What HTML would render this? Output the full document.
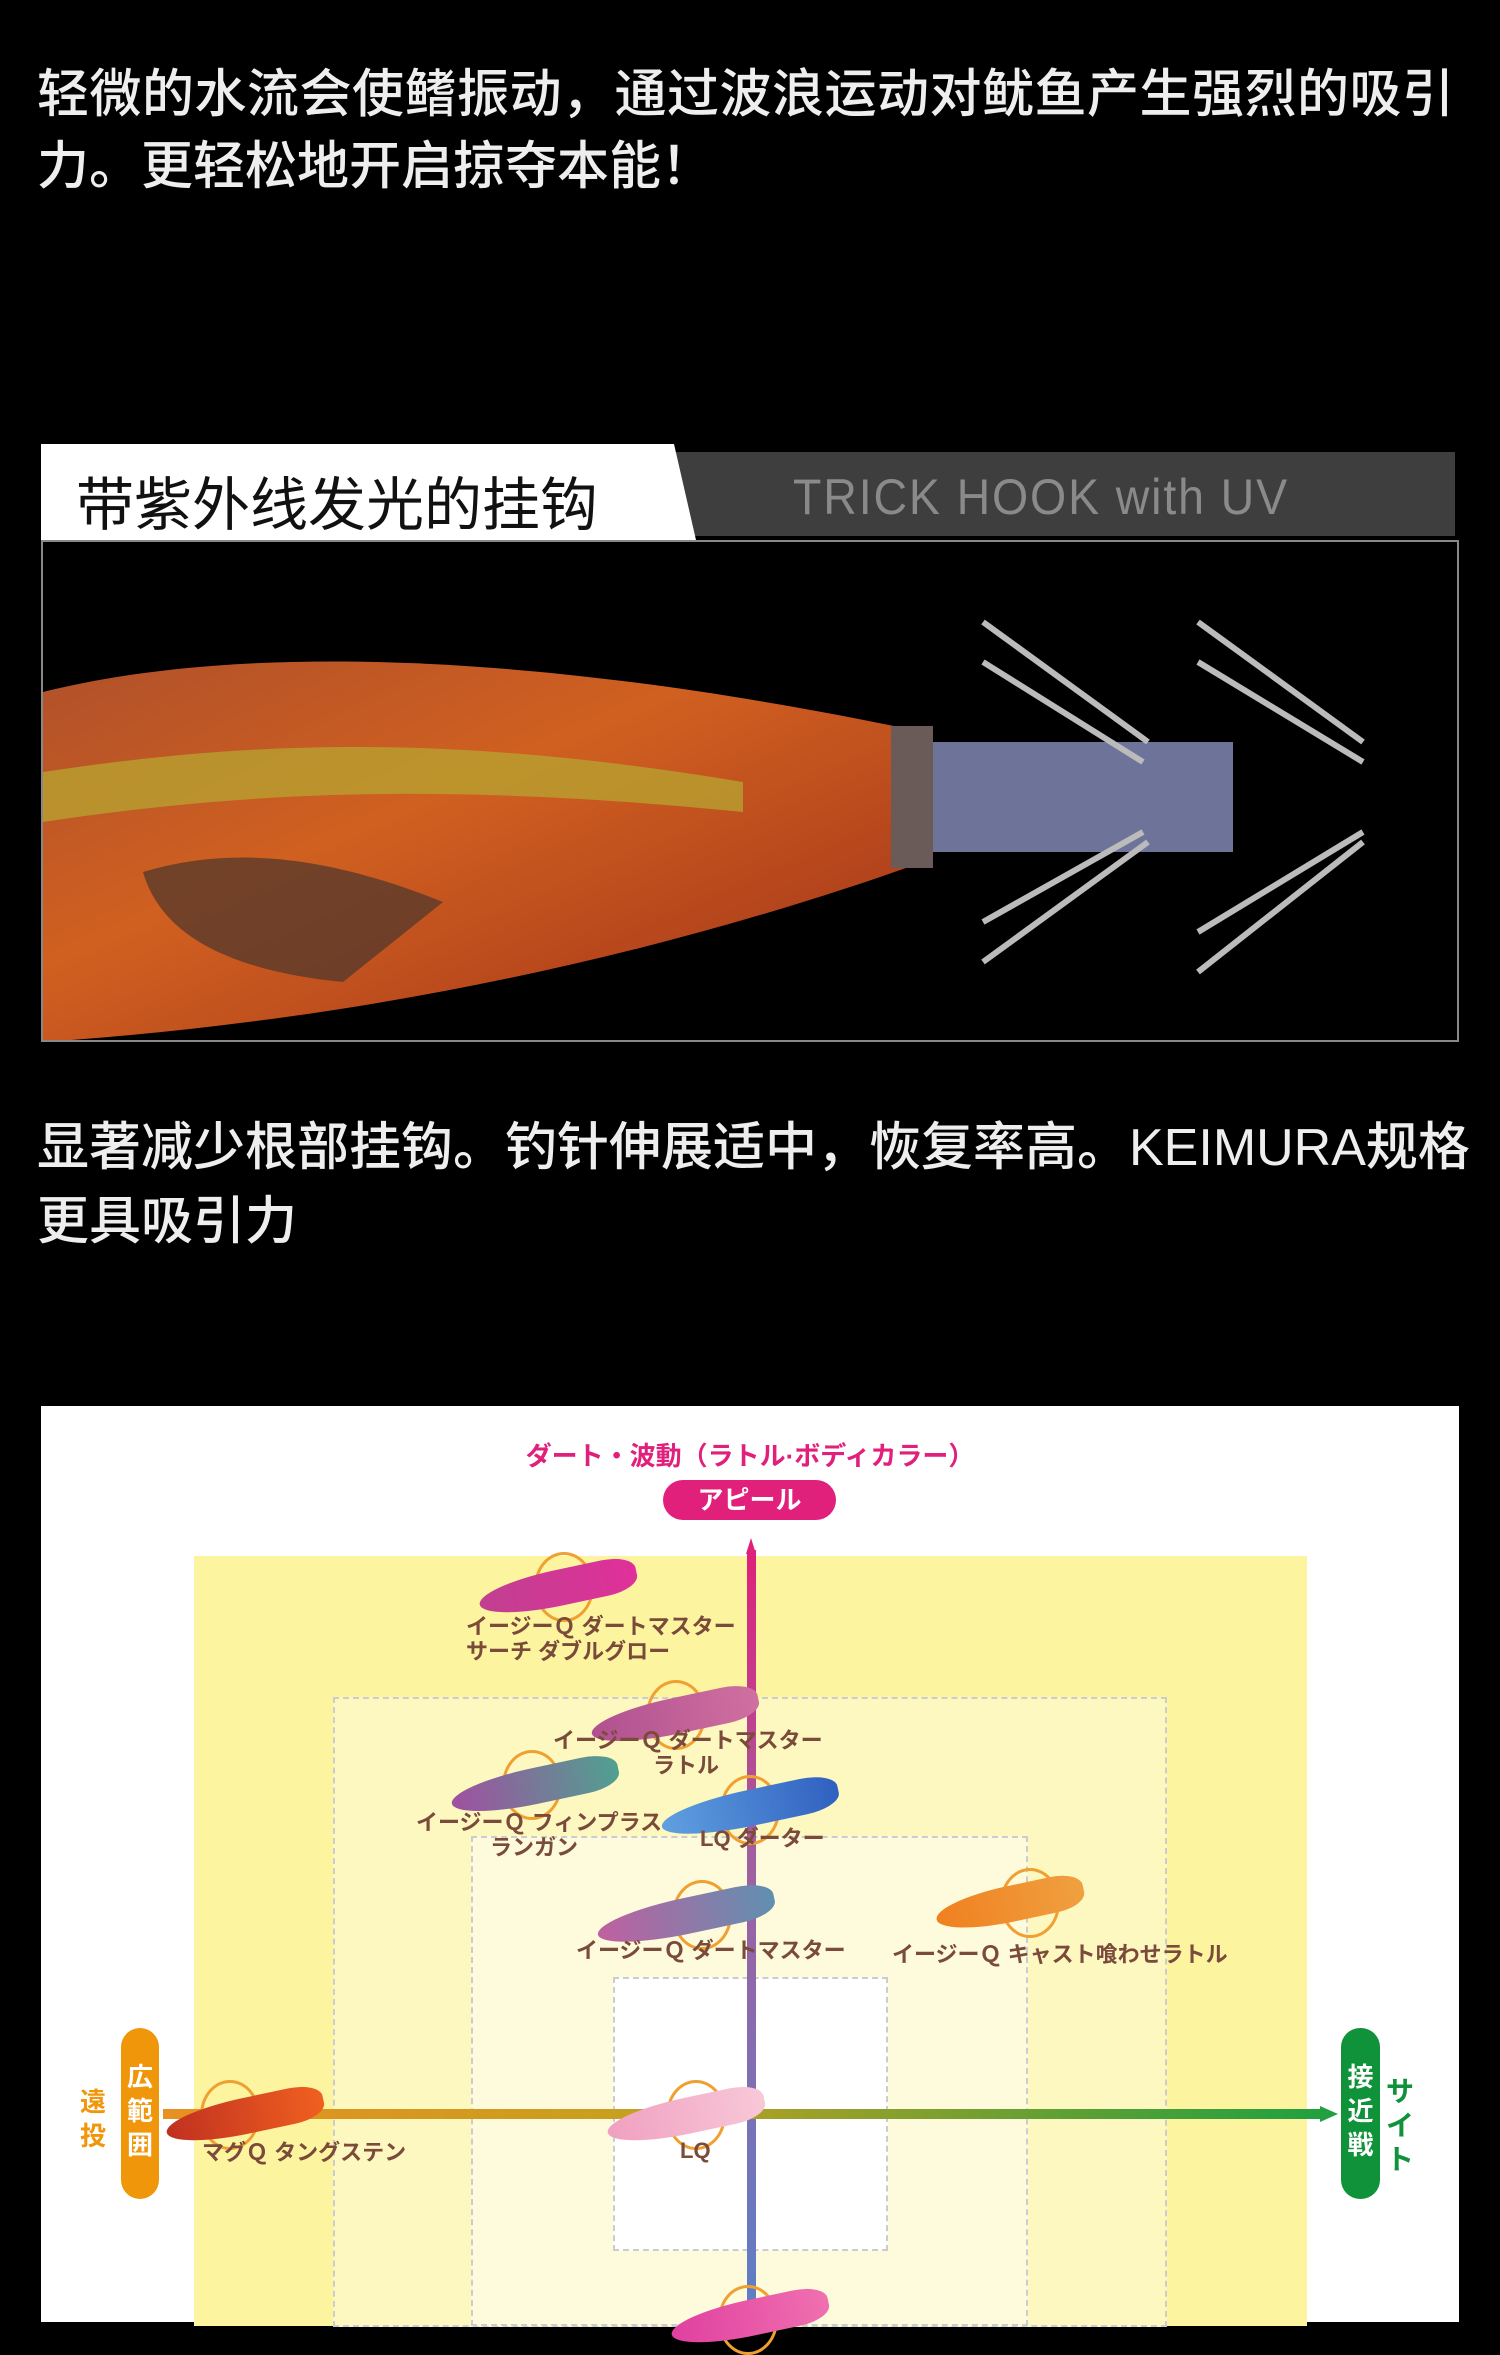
<!DOCTYPE html>
<html><head><meta charset="utf-8"><style>
*{margin:0;padding:0;box-sizing:border-box}
body{width:1500px;height:2322px;background:#000;position:relative;overflow:hidden;font-family:"Liberation Sans","Noto Sans CJK SC",sans-serif}
.t{position:absolute;left:37px;color:#eee;font-size:52px;line-height:1;white-space:nowrap;font-weight:500}
.a{position:absolute}
.lbl{position:absolute;color:#7a4a3a;font-size:22px;font-weight:bold;white-space:nowrap;font-family:"Liberation Sans","Noto Sans CJK JP",sans-serif;line-height:1.15}
.lure{position:absolute;height:36px;border-radius:50% 20% 20% 50%/50% 40% 40% 50%;transform:rotate(-12deg)}
.ring{position:absolute;width:60px;height:70px;border:3px solid #f0a030;border-radius:50%}
</style></head><body>
<div class="t" style="top:69px;letter-spacing:0.5px">轻微的水流会使鳍振动，通过波浪运动对鱿鱼产生强烈的吸引</div>
<div class="t" style="top:141px">力。更轻松地开启掠夺本能！</div>

<div class="a" style="left:674px;top:452px;width:781px;height:84px;background:#3e3e3e"></div>
<div class="a" style="left:41px;top:444px;width:655px;height:96px;background:#fff;clip-path:polygon(0 0,633px 0,655px 96px,0 96px)"></div>
<div class="a" style="left:76px;top:458px;font-size:58px;color:#111;font-family:'Liberation Sans','Noto Sans CJK SC',sans-serif">带紫外线发光的挂钩</div>
<div class="a" style="left:793px;top:468px;font-size:50px;color:#8a8a8a;letter-spacing:2px;transform:scaleX(0.93);transform-origin:left">TRICK HOOK with UV</div>
<div class="a" style="left:41px;top:540px;width:1418px;height:502px;border:2px solid #888;background:#000;overflow:hidden">
<svg width="1418" height="502">
<defs><linearGradient id="bd" x1="0" y1="0" x2="1" y2="1"><stop offset="0" stop-color="#b0502a"/><stop offset="0.4" stop-color="#d06020"/><stop offset="1" stop-color="#a03018"/></linearGradient></defs>
<path d="M0 150 C200 100 500 110 880 190 L880 320 C600 420 300 480 0 500 Z" fill="url(#bd)"/>
<path d="M0 230 C200 200 400 190 700 240 L700 270 C400 240 200 250 0 280Z" fill="#b8a030" opacity="0.8"/>
<path d="M100 330 C200 300 300 320 400 360 L300 440 C200 430 120 400 100 330Z" fill="#5a3a2a" opacity="0.8"/>
<rect x="848" y="184" width="42" height="142" fill="#6a5a58"/>
<rect x="890" y="200" width="300" height="110" fill="#8a90c0" opacity="0.8"/>
<g stroke="#bbb" stroke-width="6" fill="none">
<path d="M940 80 L1105 200"/><path d="M940 120 L1100 220"/><path d="M940 420 L1105 300"/><path d="M940 380 L1100 290"/>
<path d="M1155 80 L1320 200"/><path d="M1155 120 L1320 220"/><path d="M1155 430 L1320 300"/><path d="M1155 390 L1320 290"/>
</g></svg></div>

<div class="t" style="top:1122px">显著减少根部挂钩。钓针伸展适中，恢复率高。KEIMURA规格</div>
<div class="t" style="top:1196px">更具吸引力</div>

<div class="a" style="left:41px;top:1406px;width:1418px;height:916px;background:#fff"></div>
<div class="a" style="left:194px;top:1556px;width:1113px;height:770px;background:#fdf4a0"></div>
<div class="a" style="left:333px;top:1697px;width:834px;height:630px;background:#fdf7c0;border:2px dashed #ccc"></div>
<div class="a" style="left:471px;top:1836px;width:557px;height:490px;background:#fefadc;border:2px dashed #ccc"></div>
<div class="a" style="left:613px;top:1977px;width:275px;height:274px;background:#fff;border:2px dashed #ccc"></div>

<div class="a" style="left:0;width:1500px;text-align:center;top:1436px;color:#e0207a;font-size:26px;font-weight:bold;font-family:'Liberation Sans','Noto Sans CJK JP',sans-serif">ダート・波動（ラトル·ボディカラー）</div>
<div class="a" style="left:663px;top:1480px;width:173px;height:40px;border-radius:20px;background:#e0207a;color:#fff;font-size:26px;font-weight:bold;text-align:center;line-height:40px;font-family:'Liberation Sans','Noto Sans CJK JP',sans-serif">アピール</div>

<div class="a" style="left:747px;top:1550px;width:9px;height:780px;background:linear-gradient(#e0207a,#a060a0 40%,#5a80c8)"></div>
<div class="a" style="left:746px;top:1538px;width:0;height:0;border-left:5px solid transparent;border-right:5px solid transparent;border-bottom:16px solid #e0207a"></div>
<div class="a" style="left:163px;top:2109px;width:1160px;height:10px;background:linear-gradient(90deg,#e89020,#c8a020 40%,#20a040)"></div>
<div class="a" style="left:1320px;top:2106px;width:0;height:0;border-top:8px solid transparent;border-bottom:8px solid transparent;border-left:18px solid #20a040"></div>

<div class="a" style="left:121px;top:2028px;width:38px;height:171px;border-radius:19px;background:#f0960a;color:#fff;font-size:26px;font-weight:bold;text-align:center;line-height:34px;padding-top:32px;font-family:'Liberation Sans','Noto Sans CJK JP',sans-serif">広<br>範<br>囲</div>
<div class="a" style="left:80px;top:2085px;color:#f0960a;font-size:26px;font-weight:bold;line-height:34px;font-family:'Liberation Sans','Noto Sans CJK JP',sans-serif">遠<br>投</div>
<div class="a" style="left:1341px;top:2028px;width:39px;height:171px;border-radius:19px;background:#10923a;color:#fff;font-size:26px;font-weight:bold;text-align:center;line-height:34px;padding-top:32px;font-family:'Liberation Sans','Noto Sans CJK JP',sans-serif">接<br>近<br>戦</div>
<div class="a" style="left:1386px;top:2075px;color:#10923a;font-size:28px;font-weight:bold;line-height:34px;font-family:'Liberation Sans','Noto Sans CJK JP',sans-serif">サ<br>イ<br>ト</div>

<div class="ring" style="left:534px;top:1552px"></div><div class="lure" style="left:478px;top:1570px;width:160px;background:linear-gradient(90deg,#c04090,#e0309a)"></div>
<div class="lbl" style="left:466px;top:1614px">イージーＱ ダートマスター<br>サーチ ダブルグロー</div>
<div class="ring" style="left:646px;top:1680px"></div><div class="lure" style="left:590px;top:1698px;width:170px;background:linear-gradient(90deg,#b05090,#d070a0)"></div>
<div class="lbl" style="left:553px;top:1728px">イージーＱ ダートマスター<br><span style="padding-left:100px">ラトル</span></div>
<div class="ring" style="left:502px;top:1750px"></div><div class="lure" style="left:450px;top:1768px;width:170px;background:linear-gradient(90deg,#a050a0,#50a090)"></div>
<div class="lbl" style="left:416px;top:1810px">イージーＱ フィンプラス<br><span style="padding-left:74px">ランガン</span></div>
<div class="ring" style="left:720px;top:1775px"></div><div class="lure" style="left:660px;top:1790px;width:180px;background:linear-gradient(90deg,#60a0e0,#3060c0)"></div>
<div class="lbl" style="left:700px;top:1826px">LQ ダーター</div>
<div class="ring" style="left:672px;top:1880px"></div><div class="lure" style="left:596px;top:1898px;width:180px;background:linear-gradient(90deg,#c060a0,#6090b0)"></div>
<div class="lbl" style="left:576px;top:1938px">イージーＱ ダートマスター</div>
<div class="ring" style="left:1000px;top:1868px"></div><div class="lure" style="left:935px;top:1886px;width:150px;background:linear-gradient(90deg,#f08020,#f0a040)"></div>
<div class="lbl" style="left:892px;top:1942px">イージーＱ キャスト喰わせラトル</div>
<div class="ring" style="left:200px;top:2080px"></div><div class="lure" style="left:165px;top:2098px;width:160px;background:linear-gradient(90deg,#c03020,#f06020)"></div>
<div class="lbl" style="left:202px;top:2140px">マグＱ タングステン</div>
<div class="ring" style="left:666px;top:2080px"></div><div class="lure" style="left:606px;top:2098px;width:160px;background:linear-gradient(90deg,#f0a0c0,#f8c8d8)"></div>
<div class="lbl" style="left:680px;top:2138px">LQ</div>
<div class="ring" style="left:718px;top:2285px"></div><div class="lure" style="left:670px;top:2300px;width:160px;background:linear-gradient(90deg,#e040a0,#f070b0)"></div>
</body></html>
